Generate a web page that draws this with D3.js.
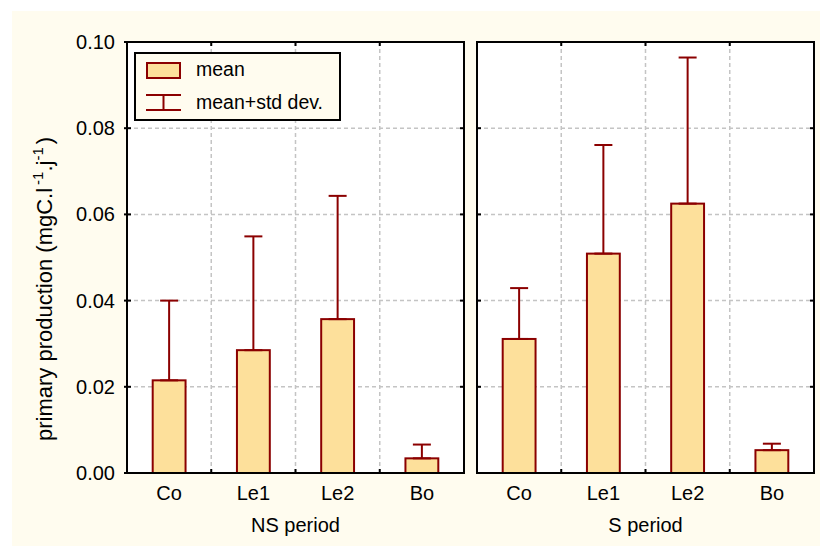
<!DOCTYPE html>
<html>
<head>
<meta charset="utf-8">
<script src="https://cdn.jsdelivr.net/npm/d3@7"></script>
<style>
  html, body { margin: 0; padding: 0; background: #ffffff; }
  svg { display: block; }
  text { font-family: "Liberation Sans", Arial, sans-serif; fill: #000; }
</style>
</head>
<body>
<svg id="chart" width="828" height="548"></svg>
<script>
// Sites sampled in each period
const categories = ["Co", "Le1", "Le2", "Bo"];
const periods = ["NS period", "S period"];

// Mean primary production (mgC.l-1.j-1) per site, per period
const meanNS = [0.0215, 0.0285, 0.0357, 0.0034];
const meanS  = [0.0311, 0.0509, 0.0625, 0.0053];

// Mean + standard deviation per site, per period
const upperNS = [0.0400, 0.0549, 0.0643, 0.0066];
const upperS  = [0.0429, 0.0761, 0.0964, 0.0068];

const yTicks = [0.00, 0.02, 0.04, 0.06, 0.08, 0.10];

const panels = [
  { label: periods[0], mean: meanNS, upper: upperNS, x0: 127, x1: 464 },
  { label: periods[1], mean: meanS,  upper: upperS,  x0: 477, x1: 814 }
];

const barFill = "#fde09b";
const darkRed = "#8b0000";
const gridCol = "#c4c4c4";
const cream = "#fffcef";
const plotTop = 42, plotBottom = 473;
const fontSize = 20;

const svg = d3.select("#chart");

// cream backdrop
svg.append("rect")
  .attr("x", 12).attr("y", 11).attr("width", 808).attr("height", 535)
  .attr("fill", cream);

const y = d3.scaleLinear().domain([0, 0.10]).range([plotBottom, plotTop]);

panels.forEach((p, pi) => {
  const x = d3.scaleBand()
    .domain(categories)
    .range([p.x0, p.x1])
    .paddingInner(0.61)
    .paddingOuter(0.305);
  const step = x.step();

  const g = svg.append("g");

  // plot area
  g.append("rect")
    .attr("x", p.x0).attr("y", plotTop)
    .attr("width", p.x1 - p.x0).attr("height", plotBottom - plotTop)
    .attr("fill", "#ffffff");

  // horizontal grid
  g.selectAll(".hgrid")
    .data(yTicks.filter(t => t > 0 && t < 0.1))
    .enter().append("line")
    .attr("x1", p.x0).attr("x2", p.x1)
    .attr("y1", d => y(d)).attr("y2", d => y(d))
    .attr("stroke", gridCol).attr("stroke-width", 1.5)
    .attr("stroke-dasharray", "4,3");

  // vertical grid at category boundaries
  const bounds = d3.range(1, categories.length).map(i => p.x0 + i * step);
  g.selectAll(".vgrid")
    .data(bounds)
    .enter().append("line")
    .attr("x1", d => d).attr("x2", d => d)
    .attr("y1", plotTop).attr("y2", plotBottom)
    .attr("stroke", gridCol).attr("stroke-width", 1.5)
    .attr("stroke-dasharray", "4,3");

  // bars
  g.selectAll(".bar")
    .data(categories)
    .enter().append("rect")
    .attr("x", d => x(d))
    .attr("y", (d, i) => y(p.mean[i]))
    .attr("width", x.bandwidth())
    .attr("height", (d, i) => plotBottom - y(p.mean[i]))
    .attr("fill", barFill)
    .attr("stroke", darkRed).attr("stroke-width", 2);

  // error bars (mean to mean + std dev)
  const cap = 9;
  const cx = d => x(d) + x.bandwidth() / 2;
  const eb = g.selectAll(".err").data(categories).enter().append("g")
    .attr("stroke", darkRed).attr("stroke-width", 2);
  eb.append("line")
    .attr("x1", cx).attr("x2", cx)
    .attr("y1", (d, i) => y(p.mean[i])).attr("y2", (d, i) => y(p.upper[i]));
  eb.append("line")
    .attr("x1", d => cx(d) - cap).attr("x2", d => cx(d) + cap)
    .attr("y1", (d, i) => y(p.upper[i])).attr("y2", (d, i) => y(p.upper[i]));
  eb.append("line")
    .attr("x1", d => cx(d) - cap).attr("x2", d => cx(d) + cap)
    .attr("y1", (d, i) => y(p.mean[i])).attr("y2", (d, i) => y(p.mean[i]));

  // frame
  g.append("rect")
    .attr("x", p.x0).attr("y", plotTop)
    .attr("width", p.x1 - p.x0).attr("height", plotBottom - plotTop)
    .attr("fill", "none").attr("stroke", "#000").attr("stroke-width", 2);

  // inward ticks on top and bottom at category boundaries
  const tk = 4;
  bounds.forEach(b => {
    g.append("line").attr("x1", b).attr("x2", b).attr("y1", plotTop).attr("y2", plotTop + tk)
      .attr("stroke", "#000").attr("stroke-width", 2);
    g.append("line").attr("x1", b).attr("x2", b).attr("y1", plotBottom).attr("y2", plotBottom - tk)
      .attr("stroke", "#000").attr("stroke-width", 2);
  });
  // inward ticks on left and right at y ticks
  yTicks.forEach(t => {
    const yy = y(t);
    g.append("line").attr("x1", pi === 0 ? p.x0 - 3 : p.x0).attr("x2", p.x0 + tk)
      .attr("y1", yy).attr("y2", yy).attr("stroke", "#000").attr("stroke-width", 2);
    g.append("line").attr("x1", p.x1 - tk).attr("x2", p.x1)
      .attr("y1", yy).attr("y2", yy).attr("stroke", "#000").attr("stroke-width", 2);
  });

  // category labels
  g.selectAll(".cat")
    .data(categories)
    .enter().append("text")
    .attr("x", cx)
    .attr("y", 500)
    .attr("text-anchor", "middle")
    .attr("font-size", fontSize)
    .text(d => d);

  // period label
  g.append("text")
    .attr("x", (p.x0 + p.x1) / 2)
    .attr("y", 532)
    .attr("text-anchor", "middle")
    .attr("font-size", fontSize)
    .text(p.label);
});

// y tick labels
svg.selectAll(".ytick")
  .data(yTicks)
  .enter().append("text")
  .attr("x", 115)
  .attr("y", d => y(d) + 7)
  .attr("text-anchor", "end")
  .attr("font-size", fontSize)
  .text(d => d3.format(".2f")(d));

// y axis title with superscripts
const yt = svg.append("text")
  .attr("transform", "translate(52,441) rotate(-90)")
  .attr("text-anchor", "start")
  .attr("font-size", 22);
yt.append("tspan").text("primary production (mgC.l");
yt.append("tspan").attr("dx", 3).attr("dy", -9).attr("font-size", 15).text("-1");
yt.append("tspan").attr("dy", 9).text(".j");
yt.append("tspan").attr("dy", -9).attr("font-size", 15).text("-1");
yt.append("tspan").attr("dx", 3).attr("dy", 9).text(")");

// legend
const lg = svg.append("g");
lg.append("rect")
  .attr("x", 135).attr("y", 53).attr("width", 205).attr("height", 67)
  .attr("fill", cream).attr("stroke", "#000").attr("stroke-width", 2);
lg.append("rect")
  .attr("x", 147).attr("y", 63).attr("width", 33).attr("height", 15)
  .attr("fill", barFill).attr("stroke", darkRed).attr("stroke-width", 2);
lg.append("text").attr("x", 196).attr("y", 76).attr("font-size", 19.5).text("mean");
const li = lg.append("g").attr("stroke", darkRed).attr("stroke-width", 2);
li.append("line").attr("x1", 146).attr("x2", 181).attr("y1", 95).attr("y2", 95);
li.append("line").attr("x1", 146).attr("x2", 181).attr("y1", 110).attr("y2", 110);
li.append("line").attr("x1", 163.5).attr("x2", 163.5).attr("y1", 95).attr("y2", 110);
lg.append("text").attr("x", 196).attr("y", 109).attr("font-size", 19.5).text("mean+std dev.");
</script>
</body>
</html>
